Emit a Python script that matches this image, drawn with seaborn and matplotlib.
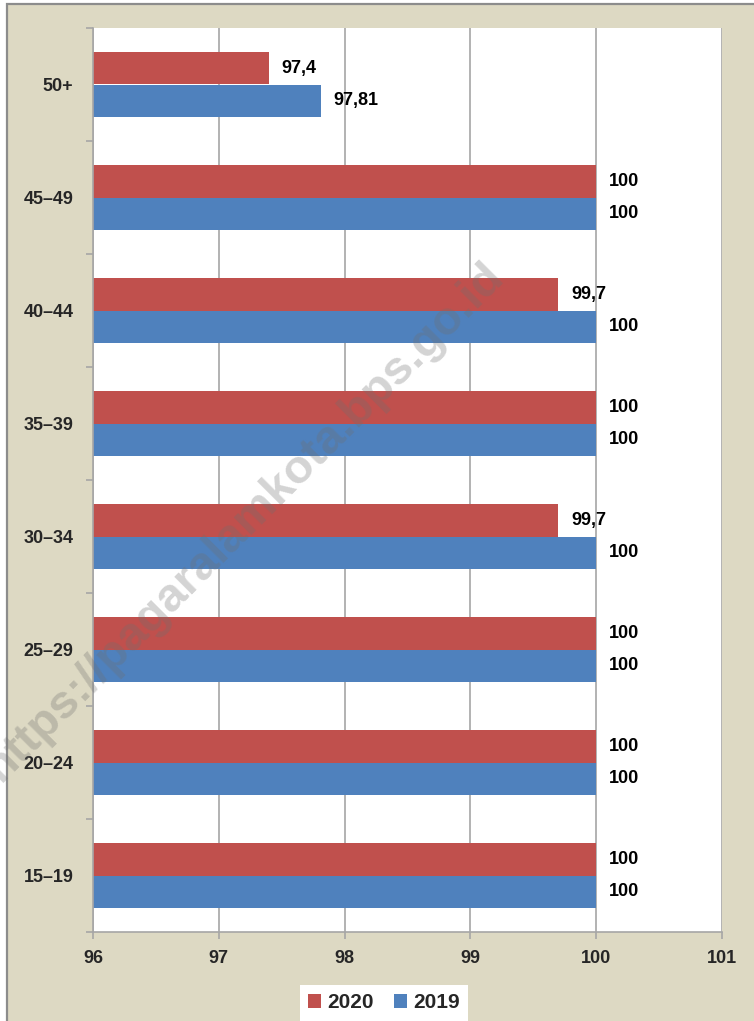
import matplotlib
matplotlib.use("Agg")
import matplotlib.pyplot as plt
from matplotlib.patches import Rectangle, Patch
import numpy as np
import pandas as pd
import seaborn as sns

# data
groups = ['50+', '45–49', '40–44', '35–39', '30–34', '25–29', '20–24', '15–19']
years = ['2020', '2019']
v2020 = [97.4, 100, 99.7, 100, 99.7, 100, 100, 100]
v2019 = [97.81, 100, 100, 100, 100, 100, 100, 100]
x_ticks = [96, 97, 98, 99, 100, 101]

colors = ['#C0504D', '#4F81BD']
beige = '#DDD9C3'
gray = '#A6A6A6'

df = pd.DataFrame({
    'group': groups * 2,
    'value': v2020 + v2019,
    'year': ['2020'] * len(groups) + ['2019'] * len(groups),
})

sns.set_style('white')
plt.rcParams['font.family'] = ['Liberation Sans', 'DejaVu Sans']
plt.rcParams['font.weight'] = 'bold'

fig = plt.figure(figsize=(7.54, 10.21), dpi=100, facecolor='white')
# beige chart area with gray border (top/left visible)
fig.patches.append(Rectangle((7 / 754, -0.1), 1.2, 1.1 - 4 / 1021, transform=fig.transFigure,
                             facecolor=beige, edgecolor='#8C8C8C', linewidth=1.6, zorder=-5))

ax = fig.add_axes([93 / 754, 1 - 932 / 1021, (722 - 93) / 754, (932 - 28) / 1021])
ax.set_facecolor('white')

sns.barplot(data=df, y='group', x='value', hue='year', hue_order=years, order=groups,
            palette=colors, saturation=1, orient='h', width=0.57, linewidth=0,
            legend=False, ax=ax)

# value labels with comma decimals
for container, vals in zip(ax.containers, [v2020, v2019]):
    ax.bar_label(container, labels=[f"{v:g}".replace('.', ',') for v in vals],
                 padding=9, fontsize=13, fontweight='bold', color='black')

ax.set_xlim(96, 101)
ax.set_xticks(x_ticks)
ax.set_xticklabels([str(t) for t in x_ticks], fontsize=13, fontweight='bold')
ax.grid(axis='x', color=gray, linewidth=1.2)
ax.set_axisbelow(True)

ax.set_yticks(range(len(groups)))
ax.set_yticklabels(groups, fontsize=13, fontweight='bold')
ax.set_yticks(np.arange(-0.5, len(groups), 1), minor=True)
ax.tick_params(axis='y', which='major', length=0, pad=14)
ax.tick_params(axis='y', which='minor', length=5, color=gray, width=1.2, direction='out')
ax.tick_params(axis='x', length=5, color=gray, width=1.2, pad=8, direction='out')
ax.tick_params(left=True, bottom=True, which='both')
ax.tick_params(axis='y', which='major', left=False)

for side in ['top', 'right']:
    ax.spines[side].set_visible(False)
for side in ['left', 'bottom']:
    ax.spines[side].set_color(gray)
    ax.spines[side].set_linewidth(1.2)

ax.set_xlabel('')
ax.set_ylabel('')

# watermark, on top of the bars
ax.text(0.325, 0.489, 'https://pagaralamkota.bps.go.id', transform=fig.transFigure,
        rotation=45, fontsize=34, fontweight='bold', color='#6F6F6F', alpha=0.3,
        ha='center', va='center', rotation_mode='anchor', zorder=20, clip_on=False)

# legend at the bottom
handles = [Patch(facecolor=c, edgecolor='none') for c in colors]
leg = fig.legend(handles, years, loc='upper center', bbox_to_anchor=(384 / 754, 1 - 985 / 1021),
                 ncol=2, frameon=True, fancybox=False, framealpha=1, prop={'weight': 'bold', 'size': 15},
                 handlelength=0.6, handleheight=0.6, handletextpad=0.3, columnspacing=1.0,
                 borderpad=0.4, borderaxespad=0)
leg.get_frame().set_facecolor('white')
leg.get_frame().set_edgecolor('none')

fig.savefig('out.png', dpi=100, facecolor=fig.get_facecolor())
